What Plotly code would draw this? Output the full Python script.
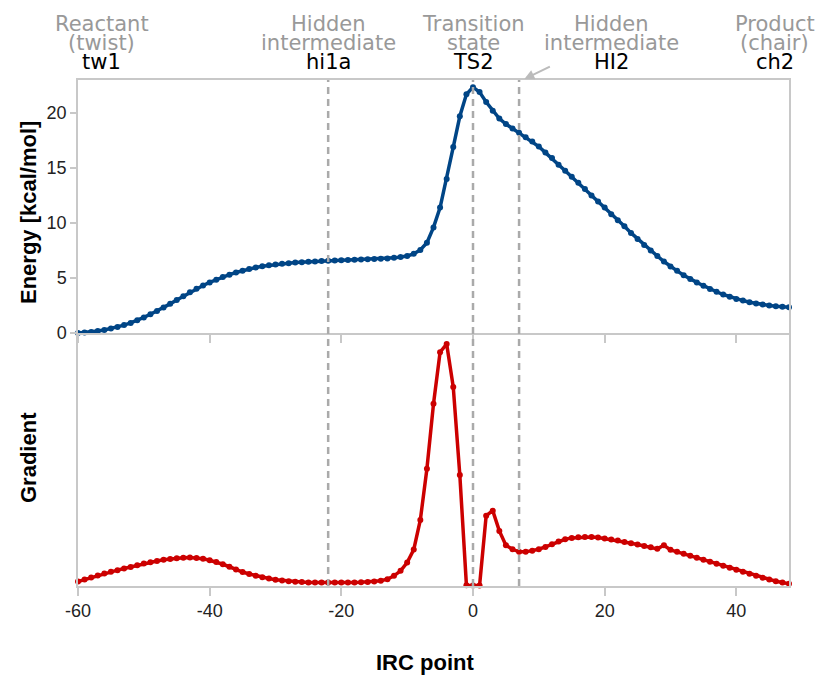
import plotly.graph_objects as go

# ---------------- data ----------------
irc = list(range(-60, 49))

energy = [
    0.00, 0.05, 0.10, 0.18, 0.28, 0.40, 0.55, 0.72, 0.92, 1.15,   # -60..-51
    1.42, 1.70, 2.00, 2.32, 2.65, 3.00, 3.35, 3.70, 4.02, 4.32,   # -50..-41
    4.60, 4.85, 5.10, 5.30, 5.50, 5.67, 5.82, 5.95, 6.06, 6.15,   # -40..-31
    6.23, 6.30, 6.35, 6.40, 6.44, 6.48, 6.51, 6.54, 6.57, 6.60,   # -30..-21
    6.62, 6.64, 6.66, 6.68, 6.70, 6.72, 6.75, 6.78, 6.83, 6.90,   # -20..-11
    7.00, 7.20, 7.55, 8.20, 9.60, 11.4, 14.0, 16.9, 19.7, 21.7,   # -10..-1
    22.35, 21.9, 21.0, 20.2, 19.5, 19.0, 18.6, 18.2, 17.8, 17.4,  # 0..9
    16.95, 16.4, 15.9, 15.3, 14.75, 14.2, 13.65, 13.1, 12.5, 11.95,  # 10..19
    11.4, 10.8, 10.25, 9.7, 9.1, 8.55, 8.0, 7.5, 7.0, 6.5,        # 20..29
    6.05, 5.65, 5.25, 4.9, 4.6, 4.3, 4.0, 3.75, 3.5, 3.3,         # 30..39
    3.1, 2.95, 2.8, 2.68, 2.58, 2.5, 2.43, 2.38, 2.35,            # 40..48
]

gradient = [
    4.0, 6.0, 8.0, 10.0, 11.9, 13.7, 15.4, 17.0, 18.6, 20.3,      # -60..-51
    22.0, 23.3, 24.6, 25.7, 26.6, 27.3, 27.8, 28.0, 27.6, 26.8,   # -50..-41
    25.3, 23.5, 21.3, 18.8, 16.0, 13.5, 11.5, 9.8, 8.3, 7.0,      # -40..-31
    5.8, 5.0, 4.3, 3.8, 3.4, 3.1, 3.0, 3.0, 3.0, 3.0,             # -30..-21
    3.0, 3.0, 3.1, 3.3, 3.6, 4.0, 4.7, 6.3, 9.7, 14.7,            # -20..-11
    23.0, 36.0, 65.7, 117.0, 182.0, 233.7, 242.0, 199.0, 110.7, 0.3,  # -10..-1
    0.0, 0.0, 70.0, 75.0, 54.7, 40.3, 36.3, 33.7, 33.7, 34.7,     # 0..9
    36.3, 38.7, 41.3, 44.0, 46.3, 47.7, 48.3, 48.7, 48.7, 48.0,   # 10..19
    47.0, 46.0, 45.0, 43.7, 42.3, 41.0, 39.7, 38.3, 36.7, 40.3,   # 20..29
    35.7, 33.7, 31.7, 29.7, 27.7, 25.7, 23.7, 21.7, 19.7, 17.7,   # 30..39
    15.7, 13.7, 11.7, 9.7, 7.7, 6.0, 4.3, 3.0, 1.7,               # 40..48
]

x_ticks = [-60, -40, -20, 0, 20, 40]
x_tick_text = ["-60", "-40", "-20", "0", "20", "40"]
y_ticks = [0, 5, 10, 15, 20]

stationary_x = [-22, 0, 7]          # dashed marker lines (hi1a, TS2, HI2)

label_x = [-56.4, -22, 0, 21, 45.8]
label_line1 = ["Reactant", "Hidden", "Transition", "Hidden", "Product"]
label_line2 = ["(twist)", "intermediate", "state", "intermediate", "(chair)"]
label_code = ["tw1", "hi1a", "TS2", "HI2", "ch2"]

# ---------------- style ----------------
BLUE = "#004586"
RED = "#cc0000"
AXIS = "#c8c8c8"
GRAY_TXT = "#999999"
TICK_FONT = dict(family="Liberation Sans, Arial, sans-serif", size=18, color="#222222")
TITLE_FONT = dict(family="Liberation Sans, Arial, sans-serif", size=22, color="#000000")
LABEL_FONT = "DejaVu Sans, sans-serif"

W, H = 816, 675
ML, MR, MT, MB = 78, 27, 80, 89
PH = H - MT - MB
PW = W - ML - MR


def py2paper(py):
    return (H - MB - py) / PH


def px2paper(px):
    return (px - ML) / PW


fig = go.Figure()
fig.add_trace(go.Scatter(
    x=irc, y=energy, xaxis="x", yaxis="y", mode="lines+markers",
    line=dict(color=BLUE, width=3.5), marker=dict(color=BLUE, size=6),
    cliponaxis=False, showlegend=False,
))
fig.add_trace(go.Scatter(
    x=irc, y=gradient, xaxis="x2", yaxis="y2", mode="lines+markers",
    line=dict(color=RED, width=3.5), marker=dict(color=RED, size=6),
    cliponaxis=False, showlegend=False,
))

common_x = dict(range=[-60, 48], tickvals=x_ticks, ticktext=x_tick_text,
                showgrid=False, zeroline=False, showline=True, linecolor=AXIS,
                linewidth=1.5, ticks="outside", ticklen=8,
                tickcolor=AXIS, tickwidth=1.5, tickfont=TICK_FONT)

fig.update_layout(
    width=W, height=H,
    margin=dict(l=ML, r=MR, t=MT, b=MB),
    paper_bgcolor="white", plot_bgcolor="white",
    xaxis=dict(domain=[0, 1], anchor="y", showticklabels=False, mirror=True, **common_x),
    xaxis2=dict(domain=[0, 1], anchor="y2", matches="x", showticklabels=True,
                mirror=False, **common_x),
    yaxis=dict(domain=[0.5, 1], anchor="x", range=[0, 23], tickvals=y_ticks,
               showgrid=False, zeroline=False, showline=True, linecolor=AXIS,
               linewidth=1.5, mirror=True, ticks="outside", ticklen=6,
               tickcolor=AXIS, tickwidth=1.5, tickfont=TICK_FONT),
    yaxis2=dict(domain=[0, 0.5], anchor="x2", range=[-0.5, 253],
                showticklabels=False, ticks="", showgrid=False, zeroline=False,
                showline=True, linecolor=AXIS, linewidth=1.5, mirror=True),
)

for xv in stationary_x:
    fig.add_shape(type="line", xref="x", yref="paper", x0=xv, x1=xv, y0=0, y1=1,
                  line=dict(color="#aaaaaa", width=2.5, dash="7px,5px"), layer="above")

annotations = []
for xv, l1, l2, code in zip(label_x, label_line1, label_line2, label_code):
    for txt, py, col in ((l1, 24, GRAY_TXT), (l2, 42.5, GRAY_TXT), (code, 61.5, "#000000")):
        annotations.append(dict(
            x=xv, xref="x", y=py2paper(py), yref="paper", text=txt,
            showarrow=False, xanchor="center", yanchor="middle",
            font=dict(family=LABEL_FONT, size=21, color=col),
        ))

annotations.append(dict(
    x=7.8, xref="x", y=py2paper(79), yref="paper", text="",
    showarrow=True, ax=27, ay=-13, arrowhead=2, arrowsize=1, arrowwidth=2,
    arrowcolor="#bbbbbb",
))

annotations.append(dict(
    text="<b>Energy [kcal/mol]</b>", x=px2paper(28), y=py2paper(213),
    xref="paper", yref="paper", showarrow=False, textangle=-90,
    xanchor="center", yanchor="middle", font=TITLE_FONT,
))
annotations.append(dict(
    text="<b>Gradient</b>", x=px2paper(28), y=py2paper(458),
    xref="paper", yref="paper", showarrow=False, textangle=-90,
    xanchor="center", yanchor="middle", font=TITLE_FONT,
))
annotations.append(dict(
    text="<b>IRC point</b>", x=px2paper(425), y=py2paper(662),
    xref="paper", yref="paper", showarrow=False,
    xanchor="center", yanchor="middle", font=TITLE_FONT,
))

fig.update_layout(annotations=annotations)

fig.write_html("out.html")
